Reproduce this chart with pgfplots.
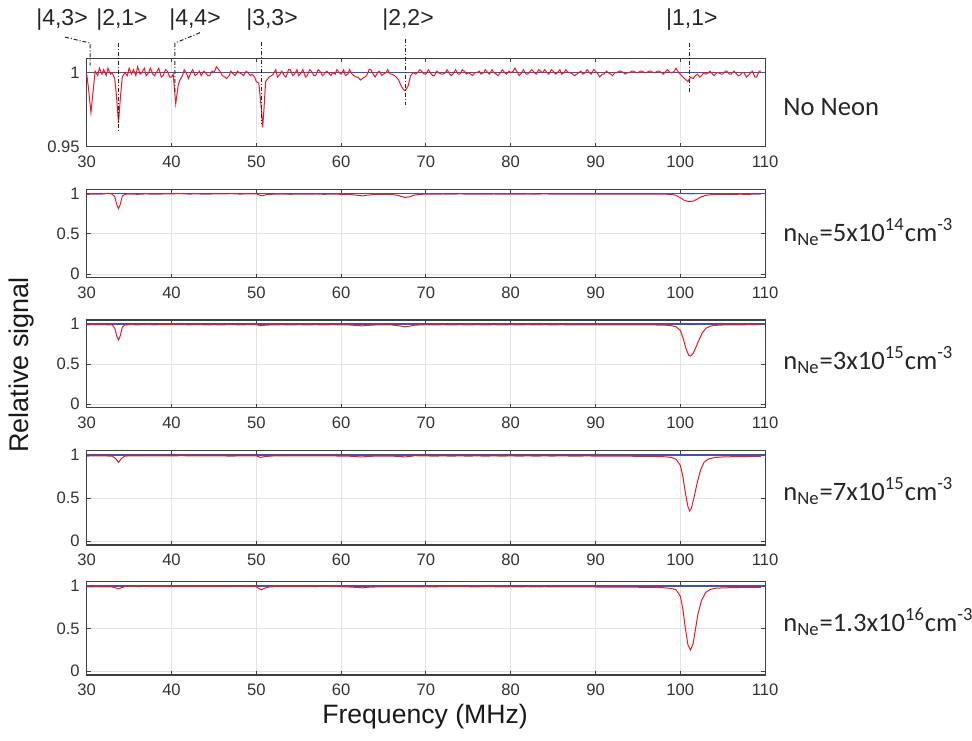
\documentclass[border=0pt]{standalone}
\usepackage{fontspec}
\setmainfont{Liberation Sans}
\newfontfamily\calfont{Carlito}
\usepackage{pgfplots}
\pgfplotsset{compat=1.18}
\definecolor{rd}{rgb}{0.93,0.10,0.15}
\definecolor{bl}{rgb}{0.25,0.32,0.68}
\definecolor{lb}{rgb}{0.64,0.74,0.93}
\definecolor{fr}{gray}{0.25}
\pgfplotsset{
  panel/.style={
    scale only axis, width=339.2pt, anchor=south west,
    xmin=30, xmax=110, xtick={30,40,...,110},
    grid=major, major grid style={gray!22, line width=0.5pt},
    axis line style={fr, line width=0.6pt},
    tick style={fr, line width=0.5pt}, tick align=inside, major tick length=2pt,
    ticklabel style={font=\fontsize{8.3}{9}\selectfont, text=black!80},
    xticklabel style={yshift=-1pt},
    /pgf/number format/assume math mode=true,
  },
  lower/.style={panel, ymin=-0.045, ymax=1.05, ytick={0,0.5,1}},
  redline/.style={rd, line width=0.5pt},
  blueline/.style={bl, line width=0.6pt},
}
\begin{document}
\begin{tikzpicture}
\useasboundingbox (0,0) rectangle (486pt,370pt);
% ---------------- Panel 1: No Neon ----------------
\begin{axis}[panel, at={(43.35pt,296.65pt)}, height=44.2pt,
  ymin=0.95, ymax=1.0097, ytick={0.95,1}, clip=false]
\addplot[blueline] coordinates {(30,1) (110,1)};
\addplot[redline] coordinates {
(30.0,0.999) (30.2,0.990) (30.5,0.973) (30.8,0.990) (31.0,1.001) (31.3,0.998) (31.5,1.003)
(31.8,0.999) (32.0,1.002) (32.3,0.998) (32.5,1.003) (32.8,0.999) (33.0,1.000) (33.3,0.996)
(33.5,0.985) (33.75,0.966) (34.0,0.985) (34.2,0.997) (34.5,1.000) (34.8,0.998) (35.0,1.003)
(35.3,0.999) (35.5,1.002) (35.8,0.998) (36.0,1.004) (36.3,0.999) (36.5,1.000) (36.8,1.003)
(37.0,0.998) (37.3,1.000) (37.5,1.003) (37.8,0.999) (38.0,0.998) (38.3,1.001) (38.5,1.003)
(38.8,0.997) (39.0,0.998) (39.3,1.002) (39.5,1.001) (39.8,0.997) (40.0,0.997) (40.2,0.999)
(40.5,0.979) (40.8,0.992) (41.0,0.995) (41.3,0.998) (41.5,1.002) (41.8,0.999) (42.0,0.996)
(42.3,1.000) (42.5,1.002) (42.8,0.998) (43.0,0.999) (43.3,1.001) (43.5,0.998) (43.8,1.001)
(44.0,1.000) (44.3,0.998) (44.5,0.998) (44.8,1.001) (45.0,1.000) (45.3,1.004) (45.7,1.001)
(46.0,0.998) (46.3,0.997) (46.5,0.996) (46.8,0.998) (47.0,1.001) (47.3,0.999) (47.5,0.998)
(47.8,1.001) (48.0,1.000) (48.3,0.999) (48.5,0.998) (48.8,1.001) (49.0,1.000) (49.3,0.998)
(49.5,0.999) (49.8,0.997) (50.0,0.994) (50.3,0.993) (50.6,0.975) (50.75,0.963) (50.9,0.975)
(51.1,0.994) (51.5,0.997) (51.8,0.998) (52.0,0.999) (52.3,1.002) (52.5,0.997) (52.8,0.999)
(53.0,1.001) (53.3,0.998) (53.5,0.997) (53.8,1.002) (54.0,1.002) (54.3,0.998) (54.5,0.999)
(54.8,1.002) (55.0,0.998) (55.3,1.000) (55.5,1.002) (55.8,0.997) (56.0,0.998) (56.3,1.002)
(56.5,1.001) (56.8,0.998) (57.0,0.998) (57.3,1.002) (57.5,1.001) (57.8,0.998) (58.0,0.999)
(58.3,1.001) (58.5,1.000) (58.8,0.998) (59.0,1.000) (59.3,0.999) (59.5,1.002) (59.8,1.000)
(60.0,0.999) (60.3,1.002) (60.5,0.998) (60.8,0.999) (61.0,1.002) (61.3,0.999) (61.5,0.998)
(61.8,0.997) (62.0,0.997) (62.3,0.995) (62.5,0.996) (62.8,0.997) (63.0,0.998) (63.3,1.002)
(63.5,1.002) (63.8,0.999) (64.0,0.997) (64.3,1.000) (64.5,1.001) (64.8,0.998) (65.0,0.999)
(65.3,1.000) (65.5,1.002) (65.8,0.999) (66.0,0.999) (66.3,0.998) (66.5,0.997) (66.8,0.995)
(67.0,0.992) (67.3,0.989) (67.5,0.988) (67.7,0.989) (67.9,0.991) (68.2,0.998) (68.5,1.000)
(68.8,0.999) (69.0,1.000) (69.3,1.002) (69.5,1.001) (69.8,0.999) (70.0,0.999) (70.3,1.002)
(70.5,1.000) (70.8,0.998) (71.0,0.998) (71.3,1.001) (71.5,1.000) (71.8,0.999) (72.0,0.999)
(72.3,1.000) (72.5,1.002) (72.8,0.999) (73.0,0.998) (73.3,1.000) (73.5,1.002) (73.8,0.999)
(74.0,0.999) (74.3,1.002) (74.5,1.001) (74.8,0.999) (75.0,1.000) (75.3,0.999) (75.5,0.998)
(75.8,1.000) (76.0,1.000) (76.3,1.001) (76.5,0.999) (76.8,1.000) (77.0,1.002) (77.3,1.000)
(77.5,0.999) (77.8,1.002) (78.0,1.000) (78.3,0.999) (78.5,0.998) (78.8,1.000) (79.0,1.002)
(79.3,1.000) (79.5,0.999) (79.8,1.001) (80.0,1.000) (80.3,1.001) (80.5,1.003) (80.8,1.000)
(81.0,0.998) (81.3,1.000) (81.5,1.002) (81.8,0.999) (82.0,0.999) (82.3,1.001) (82.5,1.002)
(82.8,1.000) (83.0,0.999) (83.3,1.002) (83.5,1.001) (83.8,1.000) (84.0,1.002) (84.3,1.000)
(84.5,0.999) (84.8,1.002) (85.0,1.001) (85.3,0.999) (85.5,1.000) (85.8,1.002) (86.0,0.999)
(86.3,1.000) (86.5,1.002) (86.8,1.000) (87.0,1.000) (87.3,0.999) (87.5,0.998) (87.8,0.999)
(88.0,1.000) (88.3,1.001) (88.5,0.999) (88.8,1.000) (89.0,1.002) (89.3,1.000) (89.5,0.999)
(89.8,1.002) (90.0,1.001) (90.3,0.999) (90.5,0.997) (90.8,0.999) (91.0,0.999) (91.3,1.001)
(91.5,1.000) (91.8,0.999) (92.0,0.998) (92.3,1.000) (92.5,1.000) (92.8,1.001) (93.0,1.001)
(93.3,1.000) (93.5,0.999) (93.8,1.000) (94.0,1.000) (94.3,1.001) (94.5,1.001) (94.8,1.000)
(95.0,1.000) (95.3,1.001) (95.5,1.001) (95.8,1.000) (96.0,1.000) (96.3,1.001) (96.5,1.001)
(96.8,1.000) (97.0,1.000) (97.3,1.001) (97.5,1.001) (97.8,1.000) (98.0,0.999) (98.3,1.001)
(98.5,1.002) (98.8,1.000) (99.0,1.000) (99.3,1.001) (99.5,1.003) (99.8,1.000) (100.0,0.999)
(100.3,0.997) (100.5,0.996) (100.7,0.995) (100.9,0.994) (101.2,0.997) (101.5,0.996)
(101.8,0.998) (102.0,0.999) (102.3,0.997) (102.5,0.998) (102.8,1.000) (103.0,0.999)
(103.3,1.000) (103.5,1.001) (103.8,0.999) (104.0,0.998) (104.3,1.000) (104.5,1.000)
(104.8,0.999) (105.0,0.999) (105.3,1.001) (105.5,1.001) (105.8,0.999) (106.0,0.999)
(106.3,1.001) (106.5,1.000) (106.8,0.998) (107.0,0.998) (107.3,1.000) (107.5,1.000)
(107.8,0.997) (108.0,0.998) (108.3,1.000) (108.5,1.001) (108.8,0.997) (109.0,0.997)
(109.3,1.001) (109.5,1.001)
};
% annotations
\begin{scope}[black!85, line width=0.5pt, dash pattern=on 2pt off 1pt on 0.5pt off 1pt]
\draw (axis cs:27.44,1.024) -- (axis cs:30.39,1.020) -- (axis cs:30.39,1.005);
\draw (axis cs:33.73,1.020) -- (axis cs:33.73,0.961);
\draw (axis cs:43.36,1.027) -- (axis cs:40.41,1.020) -- (axis cs:40.41,0.986);
\draw (axis cs:50.64,1.021) -- (axis cs:50.64,0.966);
\draw (axis cs:67.54,1.023) -- (axis cs:67.54,0.978);
\draw (axis cs:101.1,1.020) -- (axis cs:101.1,0.986);
\end{scope}
\begin{scope}[every node/.style={font=\fontsize{11.5}{13}\selectfont, text=black!85, inner sep=0pt}]
\node at (axis cs:27.09,1.0356) {|4,3>};
\node at (axis cs:34.16,1.0356) {|2,1>};
\node at (axis cs:42.77,1.0356) {|4,4>};
\node at (axis cs:51.85,1.0356) {|3,3>};
\node at (axis cs:67.89,1.0356) {|2,2>};
\node at (axis cs:101.36,1.0356) {|1,1>};
\end{scope}
\end{axis}
% ---------------- Panel 2 ----------------
\begin{axis}[lower, at={(43.35pt,231.15pt)}, height=44.2pt]
\addplot[fill=lb, draw=none] coordinates {(31.8,1) (33.0,0.992) (33.7,0.988) (34.5,0.993) (35.2,1)} -- cycle;
\addplot[fill=lb, draw=none] coordinates {(99.6,1) (100.5,0.987) (101.3,0.984) (102.3,0.99) (103.2,1)} -- cycle;
\addplot[blueline] coordinates {(30,1) (110,1)};
\addplot[redline] coordinates {
(30,0.988) (31,0.990) (32,0.992) (32.5,1.0) (33,0.99) (33.3,0.96) (33.55,0.86) (33.75,0.81)
(33.95,0.86) (34.2,0.965) (34.5,0.987) (35,0.992) (36,0.988) (37,0.993) (38,0.989) (39,0.992)
(40,0.993) (41,0.997) (42,0.991) (43,0.993) (44,0.989) (45,0.993) (46,0.992) (47,0.996)
(48,0.991) (49,0.993) (50,0.995) (50.4,0.978) (50.7,0.968) (51.2,0.985) (52,0.989) (53,0.992)
(54,0.988) (55,0.991) (56,0.989) (57,0.992) (58,0.988) (59,0.991) (60,0.988) (61,0.987)
(62,0.975) (62.5,0.968) (63,0.976) (64,0.987) (65,0.988) (66,0.987) (66.8,0.972) (67.5,0.950)
(68,0.955) (68.7,0.980) (69.5,0.988) (70,0.991) (71,0.989) (72,0.992) (73,0.989) (74,0.993)
(75,0.990) (76,0.991) (77,0.989) (78,0.992) (79,0.990) (80,0.991) (81,0.989) (82,0.992)
(83,0.990) (84,0.993) (85,0.990) (86,0.991) (87,0.989) (88,0.991) (89,0.990) (90,0.991)
(91,0.989) (92,0.991) (93,0.990) (94,0.991) (95,0.990) (96,0.990) (97,0.989) (98,0.990)
(99,0.987) (99.5,0.975) (100,0.945) (100.5,0.912) (101,0.897) (101.5,0.903) (102,0.928)
(102.5,0.958) (103,0.975) (103.5,0.982) (104,0.986) (105,0.988) (106,0.987) (107,0.989)
(108,0.988) (109,0.990) (109.5,0.989)
};
\end{axis}
% ---------------- Panel 3 ----------------
\begin{axis}[lower, at={(43.35pt,166.15pt)}, height=43.85pt]
\addplot[fill=lb, draw=none] coordinates {(31.8,1) (33.0,0.992) (33.7,0.988) (34.5,0.993) (35.2,1)} -- cycle;
\addplot[fill=lb, draw=none] coordinates {(99.3,1) (100.3,0.986) (101.3,0.982) (102.5,0.99) (103.8,1)} -- cycle;
\addplot[blueline] coordinates {(30,1) (110,1)};
\addplot[redline] coordinates {
(30,0.990) (31,0.992) (32,0.991) (33,0.990) (33.3,0.95) (33.55,0.85) (33.75,0.80)
(33.95,0.85) (34.2,0.96) (34.5,0.988) (35,0.992) (36,0.990) (37,0.992) (38,0.990) (39,0.992)
(40,0.991) (41,0.993) (42,0.990) (43,0.992) (44,0.990) (45,0.991) (46,0.990) (47,0.992)
(48,0.990) (49,0.991) (50,0.992) (50.5,0.978) (51,0.985) (52,0.990) (53,0.991) (54,0.990)
(55,0.991) (56,0.990) (57,0.991) (58,0.990) (59,0.991) (60,0.990) (61,0.988) (62,0.980)
(62.5,0.977) (63,0.982) (64,0.988) (65,0.990) (66,0.988) (67,0.975) (67.5,0.965) (68,0.972)
(68.7,0.985) (69.5,0.990) (70,0.991) (71,0.990) (72,0.991) (73,0.990) (74,0.991) (75,0.990)
(76,0.991) (77,0.990) (78,0.991) (79,0.990) (80,0.991) (81,0.990) (82,0.991) (83,0.990)
(84,0.991) (85,0.990) (86,0.991) (87,0.990) (88,0.990) (89,0.990) (90,0.990) (91,0.990)
(92,0.990) (93,0.990) (94,0.990) (95,0.989) (96,0.989) (97,0.988) (98,0.986) (98.5,0.984)
(99,0.978) (99.5,0.965) (100,0.92) (100.4,0.80) (100.7,0.68) (101.0,0.61) (101.2,0.60)
(101.5,0.63) (101.8,0.70) (102.2,0.80) (102.6,0.89) (103.0,0.945) (103.5,0.972) (104,0.983)
(105,0.988) (106,0.990) (107,0.990) (108,0.991) (109,0.991) (109.5,0.992)
};
\end{axis}
% ---------------- Panel 4 ----------------
\begin{axis}[lower, at={(43.35pt,97.5pt)}, height=47.15pt]
\addplot[blueline] coordinates {(30,1) (110,1)};
\addplot[redline] coordinates {
(30,0.988) (31,0.990) (32,0.989) (33,0.988) (33.4,0.96) (33.75,0.915) (34.1,0.96)
(34.5,0.987) (35,0.990) (36,0.989) (37,0.990) (38,0.989) (39,0.990) (40,0.989) (41,0.992)
(42,0.991) (43,0.990) (44,0.991) (45,0.990) (46,0.989) (47,0.988) (48,0.989) (49,0.991)
(50,0.990) (50.5,0.972) (51,0.982) (52,0.989) (53,0.991) (54,0.990) (55,0.991) (56,0.990)
(57,0.991) (58,0.990) (59,0.989) (60,0.988) (61,0.986) (62,0.980) (62.5,0.978) (63,0.982)
(64,0.987) (65,0.988) (66,0.987) (67,0.982) (67.5,0.978) (68,0.982) (68.7,0.992) (69.5,0.990)
(70,0.989) (71,0.988) (72,0.989) (73,0.988) (74,0.989) (75,0.988) (76,0.989) (77,0.988)
(78,0.989) (79,0.988) (80,0.989) (81,0.988) (82,0.989) (83,0.988) (84,0.989) (85,0.988)
(86,0.990) (87,0.988) (88,0.988) (89,0.989) (90,0.988) (91,0.987) (92,0.986) (93,0.986)
(94,0.986) (95,0.985) (96,0.984) (97,0.983) (98,0.980) (98.5,0.977) (99,0.970) (99.5,0.950)
(100,0.88) (100.3,0.75) (100.6,0.56) (100.9,0.40) (101.1,0.35) (101.3,0.38) (101.6,0.50)
(102,0.68) (102.4,0.83) (102.8,0.915) (103.3,0.952) (104,0.970) (105,0.978) (106,0.980)
(107,0.981) (108,0.983) (109,0.984) (109.5,0.985)
};
\end{axis}
% ---------------- Panel 5 ----------------
\begin{axis}[lower, at={(43.35pt,32.5pt)}, height=46.65pt]
\addplot[blueline] coordinates {(30,1) (110,1)};
\addplot[redline] coordinates {
(30,0.990) (31,0.991) (32,0.990) (33,0.989) (33.4,0.978) (33.75,0.965) (34.1,0.980)
(34.5,0.992) (35,0.997) (36,0.993) (37,0.995) (38,0.991) (39,0.992) (40,0.991) (41,0.993)
(42,0.992) (43,0.991) (44,0.992) (45,0.991) (46,0.992) (47,0.993) (48,0.997) (49,0.992)
(50,0.991) (50.3,0.970) (50.6,0.955) (51,0.975) (51.5,0.988) (52,0.991) (53,0.992) (54,0.991)
(55,0.992) (56,0.991) (57,0.993) (58,0.996) (59,0.992) (60,0.991) (61,0.988) (62,0.982)
(62.5,0.978) (63,0.984) (64,0.988) (65,0.989) (66,0.990) (67,0.988) (68,0.989) (69,0.990)
(70,0.991) (71,0.990) (72,0.992) (73,0.993) (74,0.992) (75,0.991) (76,0.990) (77,0.992)
(78,0.991) (79,0.990) (80,0.991) (81,0.990) (82,0.991) (83,0.990) (84,0.991) (85,0.990)
(86,0.990) (87,0.989) (88,0.989) (89,0.989) (90,0.988) (91,0.987) (92,0.987) (93,0.986)
(94,0.986) (95,0.985) (96,0.984) (97,0.983) (98,0.980) (99,0.970) (99.5,0.955)
(100,0.88) (100.3,0.73) (100.6,0.50) (100.9,0.31) (101.2,0.25) (101.5,0.32) (101.8,0.50)
(102.1,0.68) (102.5,0.83) (103.0,0.925) (103.5,0.958) (104,0.972) (105,0.978) (106,0.980)
(107,0.982) (108,0.983) (109,0.984) (109.5,0.985)
};
\end{axis}
% ---------------- labels ----------------
\begin{scope}[every node/.style={anchor=west, inner sep=0pt, font=\calfont\fontsize{13.3}{15}\selectfont, text=black!85}]
\node at (391.5pt,316.5pt) {No Neon};
\node at (391.5pt,254pt) {n\textsubscript{Ne}=5x10\textsuperscript{14}cm\textsuperscript{-3}};
\node at (391.5pt,190pt) {n\textsubscript{Ne}=3x10\textsuperscript{15}cm\textsuperscript{-3}};
\node at (391.5pt,124.5pt) {n\textsubscript{Ne}=7x10\textsuperscript{15}cm\textsuperscript{-3}};
\node at (391.5pt,59pt) {n\textsubscript{Ne}=1.3x10\textsuperscript{16}cm\textsuperscript{-3}};
\end{scope}
\node[rotate=90, font=\fontsize{13.5}{15}\selectfont, text=black!90] at (11pt,187.5pt) {Relative signal};
\node[font=\fontsize{13.3}{15}\selectfont, text=black!90] at (212.5pt,11.5pt) {Frequency (MHz)};
\end{tikzpicture}
\end{document}
